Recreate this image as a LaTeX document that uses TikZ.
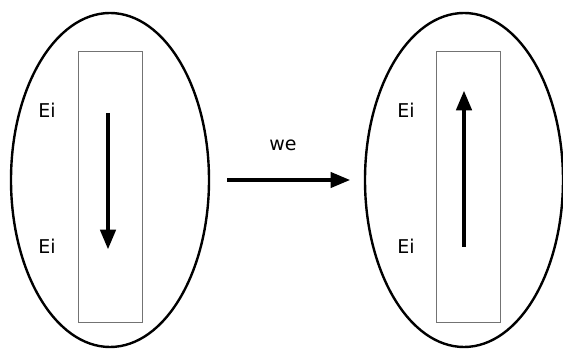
\documentclass[tikz,border=0pt]{standalone}
\usepackage{fontspec}
\setmainfont{DejaVu Sans}
\usetikzlibrary{arrows,positioning,shapes}

\begin{document}
\begin{tikzpicture}[x=1pt,y=-1pt, cell/.style={draw,ellipse,line width=2.4pt,minimum width=198,minimum height=334,inner sep=0pt},
    slab/.style={draw=black!55,line width=0.9pt,minimum width=64,minimum height=271,inner sep=0pt},
    lbl/.style={font=\fontsize{19}{19}\selectfont,inner sep=0pt},
    spin/.style={-triangle 45,line width=3.6pt}]
            \useasboundingbox (0,0) rectangle (563,352);

            \node[cell] (c1) at (110,180) {};
            \node[cell] (c2) at (464,180) {};

            \node[slab] (s1) at (110,187) {};
            \node[slab] (s2) at (468,187) {};

            \node[lbl] (e1) at (47,110) {Ei};
            \node[lbl] (e2) at (47,246) {Ei};
            \node[lbl] (e3) at (406,110) {Ei};
            \node[lbl] (e4) at (406,246) {Ei};

            \coordinate (a1) at (108,113);
            \coordinate (a2) at (108,249);
            \coordinate (b1) at (464,247);
            \coordinate (b2) at (464,91);

            \draw[spin] (a1) -- (a2);
            \draw[spin] (b1) -- (b2);
            \draw[spin,shorten <=17pt,shorten >=14pt] (c1) -- (c2);
            \node[lbl] (w) at (283,145) {we};
          \end{tikzpicture}
\end{document}
